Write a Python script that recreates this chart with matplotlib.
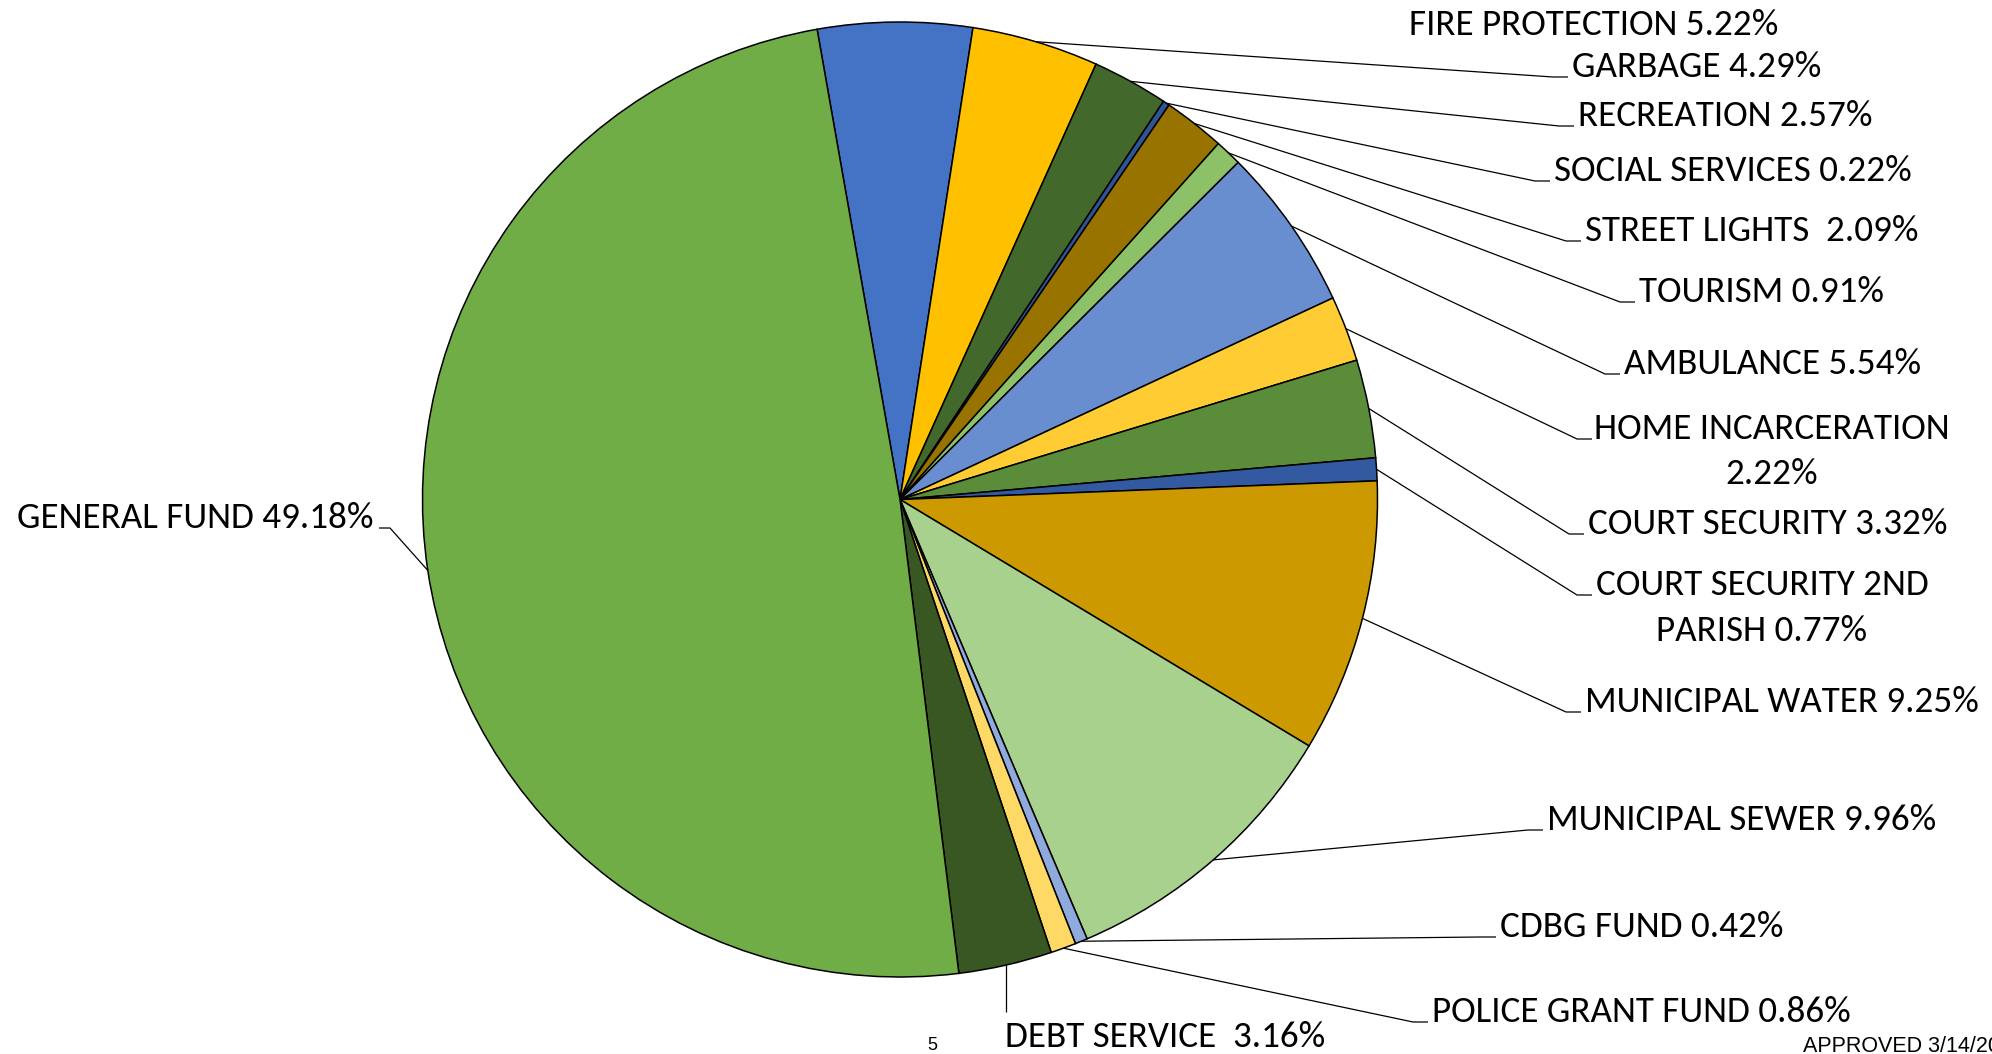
import matplotlib
matplotlib.use("Agg")
import matplotlib.pyplot as plt
from matplotlib import font_manager as fm
import numpy as np

# ---------------- data ----------------
categories = ["FIRE PROTECTION", "GARBAGE", "RECREATION", "SOCIAL SERVICES",
              "STREET LIGHTS ", "TOURISM", "AMBULANCE", "HOME INCARCERATION",
              "COURT SECURITY", "COURT SECURITY 2ND PARISH", "MUNICIPAL WATER",
              "MUNICIPAL SEWER", "CDBG FUND", "POLICE GRANT FUND", "DEBT SERVICE ",
              "GENERAL FUND"]
percents = [5.22, 4.29, 2.57, 0.22, 2.09, 0.91, 5.54, 2.22, 3.32, 0.77,
            9.25, 9.96, 0.42, 0.86, 3.16, 49.18]
colors = ["#4472C4", "#FFC000", "#43682B", "#2F5597", "#997300", "#8CC168",
          "#698ED0", "#FFCD33", "#5B8C3A", "#335AA1", "#CC9900", "#A9D18E",
          "#8FAADC", "#FFD966", "#385723", "#70AD47"]
page_number = "5"
footer = "APPROVED 3/14/20"

# ---------------- layout (pixels, y from top) ----------------
W, H = 1992, 1054
CX, CY, R = 900, 499.5, 477.5
START = 100  # degrees, matplotlib convention
# (x, baseline, ha, leader kind, words in first line, second baseline, ref left)
label_layout = [
    (1409, 35, "left", None, None, None, None),
    (1572, 77, "left", "right", None, None, None),
    (1578, 126, "left", "right", None, None, None),
    (1554, 181, "left", "right", None, None, None),
    (1585, 241, "left", "right", None, None, None),
    (1639, 302, "left", "right", None, None, None),
    (1624, 374, "left", "right", None, None, None),
    (1772, 439, "center", "right", 2, 484, 1596),
    (1588, 534, "left", "right", None, None, None),
    (1762, 595, "center", "right", 3, 641, 1596),
    (1585, 712, "left", "right", None, None, None),
    (1547, 830, "left", "right", None, None, None),
    (1500, 937, "left", "right", None, None, None),
    (1432, 1022, "left", "right", None, None, None),
    (1005, 1047, "left", "down", None, None, None),
    (373, 528, "right", "left", None, None, None),
]

# ---------------- fonts ----------------
avail = {f.name for f in fm.fontManager.ttflist}
label_family = next((f for f in ["Carlito", "Liberation Sans Narrow", "Lato",
                                 "Liberation Sans", "DejaVu Sans"] if f in avail))
small_family = next((f for f in ["Liberation Sans", "Arimo", "DejaVu Sans"] if f in avail))

fig = plt.figure(figsize=(W / 100, H / 100), dpi=100)
fig.patch.set_facecolor("white")
ax = fig.add_axes([0, 0, 1, 1])

ax.pie(percents, colors=colors, startangle=START, counterclock=False,
       center=(CX, H - CY), radius=R, frame=True,
       wedgeprops=dict(edgecolor="black", linewidth=1.1))
ax.set_xlim(0, W)
ax.set_ylim(0, H)
ax.set_aspect("equal")
ax.axis("off")

def Y(yp):
    return H - yp

# calibrate label font size to the reference width of the GENERAL FUND label
base_size = 26.5
probe = ax.text(0, 0, f"{categories[-1]} {percents[-1]:.2f}%", fontsize=base_size,
                family=label_family)
fig.canvas.draw()
wpx = probe.get_window_extent(fig.canvas.get_renderer()).width
probe.remove()
size = base_size * 356.0 / wpx

total = sum(percents)
cum = np.cumsum([0] + percents[:-1])
for i, (cat, pct) in enumerate(zip(categories, percents)):
    x, base, ha, kind, nfirst, base2, refleft = label_layout[i]
    text = f"{cat} {pct:.2f}%"
    if nfirst:
        words = text.split(" ")
        lines = [" ".join(words[:nfirst]), " ".join(words[nfirst:])]
        ax.text(x, Y(base), lines[0], ha="center", va="baseline",
                fontsize=size, family=label_family, color="black")
        ax.text(x, Y(base2), lines[1], ha="center", va="baseline",
                fontsize=size, family=label_family, color="black")
        left = refleft
    else:
        ax.text(x, Y(base), text, ha=ha, va="baseline", fontsize=size,
                family=label_family, color="black")
        left = x
    if kind is None:
        continue
    # mid angle of wedge, measured clockwise from the top
    theta = np.deg2rad((90 - START) + 360.0 * (cum[i] + pct / 2) / total)
    ex = CX + R * np.sin(theta)
    ey = CY - R * np.cos(theta)
    if kind == "right":
        xs = [ex, left - 19, left - 4]
        ys = [ey, base, base]
    elif kind == "left":
        xs = [ex, x + 17, x + 6]
        ys = [ey, base, base]
    else:  # down
        xs = [ex, ex]
        ys = [ey, base - 35]
    ax.plot(xs, [Y(v) for v in ys], color="black", linewidth=0.9,
            solid_capstyle="butt", zorder=5)

ax.text(927, Y(1050), page_number, ha="left", va="baseline", fontsize=13,
        family=small_family, color="black")
ax.text(1803, Y(1052), footer, ha="left", va="baseline", fontsize=15.5,
        family=small_family, color="black")

fig.savefig("out.png", dpi=100, facecolor="white")
